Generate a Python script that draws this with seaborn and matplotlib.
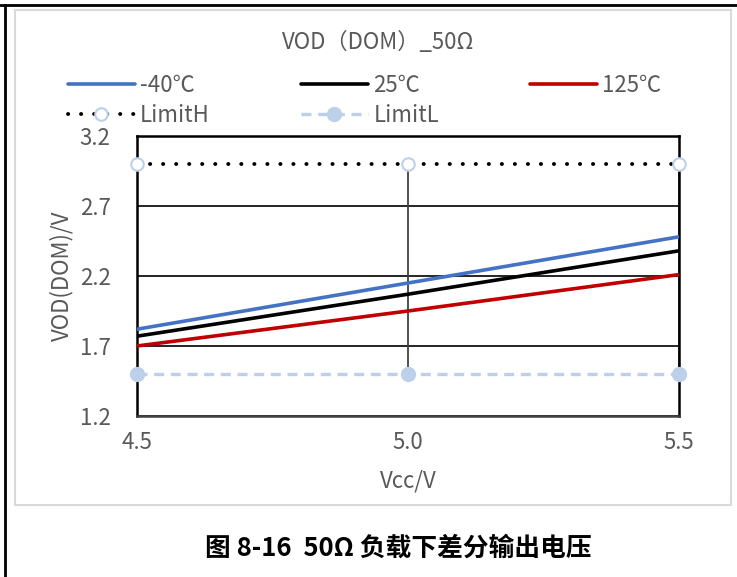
import numpy as np
import pandas as pd
import seaborn as sns
import matplotlib.pyplot as plt
from matplotlib.lines import Line2D
from matplotlib.patches import Rectangle

# Data
vcc = [4.5, 5.0, 5.5]
vod_m40 = [1.82, 2.15, 2.48]
vod_25 = [1.77, 2.07, 2.38]
vod_125 = [1.70, 1.95, 2.21]
limit_h = [3.0, 3.0, 3.0]
limit_l = [1.5, 1.5, 1.5]
series_names = ["-40℃", "25℃", "125℃"]
y_ticks = [1.2, 1.7, 2.2, 2.7, 3.2]

sns.set_style("white")
plt.rcParams['font.family'] = ['Noto Sans CJK SC', 'DejaVu Sans']

gray = "#595959"
lim_color = "#bdd0ea"
colors = ["#4472C4", "#000000", "#C00000"]

df = pd.DataFrame({
    "Vcc": vcc * 3,
    "VOD": vod_m40 + vod_25 + vod_125,
    "T": [n for n in series_names for _ in vcc],
})

fig = plt.figure(figsize=(7.37, 5.77), dpi=100)
ax = fig.add_axes([137 / 737, 1 - 416 / 577, (679 - 137) / 737, (416 - 136) / 577])

# high-low lines between the limits
ax.vlines(vcc, limit_l, limit_h, color="#404040", lw=1.3, zorder=2)

sns.lineplot(data=df, x="Vcc", y="VOD", hue="T", palette=colors, ax=ax,
             lw=2.6, legend=False, zorder=4)

sns.lineplot(x=vcc, y=limit_h, ax=ax, color="black", lw=2.8,
             linestyle=(0, (0.05, 3.3)), dash_capstyle="round", zorder=5)
ax.plot(vcc, limit_h, ls="none", marker="o", ms=9, mfc="white", mec=lim_color,
        mew=1.5, clip_on=False, zorder=6)
sns.lineplot(x=vcc, y=limit_l, ax=ax, color=lim_color, lw=2.4,
             linestyle=(0, (3, 2)), zorder=5)
ax.plot(vcc, limit_l, ls="none", marker="o", ms=10, mfc=lim_color, mec=lim_color,
        clip_on=False, zorder=6)

ax.set_xlim(4.5, 5.5)
ax.set_ylim(1.2, 3.2)
ax.set_xticks(vcc)
ax.set_xticklabels([f"{v:.1f}" for v in vcc])
ax.set_yticks(y_ticks)
ax.set_yticklabels([f"{v:.1f}" for v in y_ticks])
ax.yaxis.grid(True, color="black", lw=1.2)
ax.set_axisbelow(True)
ax.tick_params(length=0, labelsize=16, labelcolor=gray)
ax.tick_params(axis="x", pad=11)
ax.tick_params(axis="y", pad=19)
for s in ax.spines.values():
    s.set_color("black")
    s.set_linewidth(1.8)
ax.spines["bottom"].set_color("#404040")

ax.set_xlabel("Vcc/V", fontsize=16, color=gray)
ax.set_ylabel("VOD(DOM)/V", fontsize=16, color=gray)
ax.xaxis.set_label_coords(0.5, (416 - 469) / 280)
ax.yaxis.set_label_coords((73 - 137) / 542, 0.5)

fig.text(378 / 737, 1 - 42 / 577, "VOD（DOM）_50Ω", ha="center", va="center",
         fontsize=16, color=gray)

handles = [
    Line2D([], [], color=colors[0], lw=2.6),
    Line2D([], [], color="black", lw=2.8, linestyle=(0, (0.05, 3.3)),
           dash_capstyle="round", marker="o", ms=9, mfc="white", mec=lim_color, mew=1.5),
    Line2D([], [], color=colors[1], lw=2.6),
    Line2D([], [], color=lim_color, lw=2.4, linestyle=(0, (3, 2)),
           marker="o", ms=10, mfc=lim_color, mec=lim_color),
    Line2D([], [], color=colors[2], lw=2.6),
]
labels = [series_names[0], "LimitH", series_names[1], "LimitL", series_names[2]]
leg = fig.legend(handles, labels, ncol=3, loc="upper left",
                 bbox_to_anchor=(68 / 737, 1 - 74 / 577), frameon=False,
                 fontsize=16, handlelength=3.0, handletextpad=0.25,
                 columnspacing=4.1, labelspacing=0.3, borderaxespad=0, borderpad=0)
for t in leg.get_texts():
    t.set_color(gray)

# chart frame and document borders
fig.add_artist(Rectangle((15 / 737, 1 - 505 / 577), 716 / 737, 495 / 577,
                         transform=fig.transFigure, fill=False,
                         edgecolor="#d9d9d9", lw=1.5))
fig.add_artist(Line2D([0, 1], [1 - 5 / 577, 1 - 5 / 577], transform=fig.transFigure,
                      color="black", lw=2))
fig.add_artist(Line2D([5 / 737, 5 / 737], [0, 1 - 5 / 577], transform=fig.transFigure,
                      color="black", lw=2))

fig.text(398 / 737, 1 - 548 / 577, "图 8-16  50Ω 负载下差分输出电压", ha="center",
         va="center", fontsize=18.5, fontweight="bold", color="black")

fig.savefig("out.png", dpi=100)
